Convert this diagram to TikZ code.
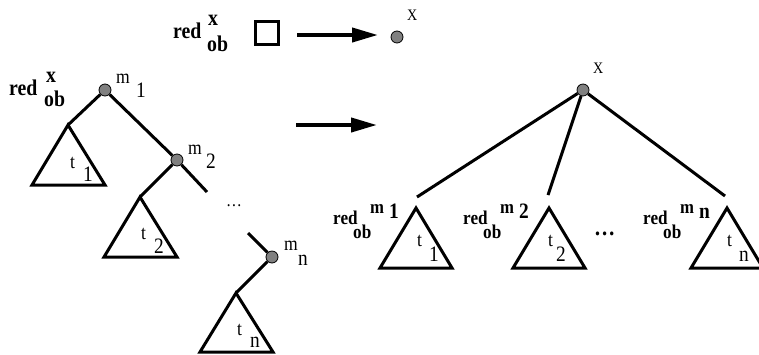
\documentclass[tikz,border=0pt]{standalone}
\usepackage{fontspec}
\setmainfont{Liberation Serif}[FakeStretch=0.88]
\usetikzlibrary{arrows.meta}
\newcommand\fsz[1]{\fontsize{#1}{#1}\selectfont}
\definecolor{dotgray}{RGB}{128,128,128}
\begin{document}
\begin{tikzpicture}[x=1pt,y=-1pt,
  lbl/.style={inner sep=0pt, anchor=base west},
  edge/.style={line width=3pt},
  tri/.style={line width=3pt, line join=miter},
  dotnode/.style={circle, draw=black, line width=0.8pt, fill=dotgray, minimum size=12pt, inner sep=0pt},
  bigarrow/.style={line width=4pt, -{Triangle[length=26pt,width=14pt]}},
  redl/.style={lbl, font=\fsz{22.5}\bfseries},
  redr/.style={lbl, font=\fsz{19.5}\bfseries},
  mlet/.style={lbl, font=\fsz{20}},
  tlet/.style={lbl, font=\fsz{20}},
  mdig/.style={lbl, font=\fsz{22}},
  mletb/.style={lbl, font=\fsz{19}\bfseries},
  mdigb/.style={lbl, font=\fsz{22}\bfseries},
  xlbl/.style={lbl, font=\fsz{16}}
]
\useasboundingbox (0,0) rectangle (759,354);
\clip (0,0) rectangle (759,354);

% ---------- top row ----------
\node[redl] (tred) at (173,38) {red};
\node[redl] (tx) at (208,25) {x};
\node[redl] (tob) at (207,51) {ob};
\node[draw, line width=3pt, minimum size=23pt, inner sep=0pt] (sq) at (267,32.5) {};
\node[dotnode] (tdot) at (397,37) {};
\node[xlbl] (tX) at (407,20) {X};
\coordinate (ta1) at (297,35);
\coordinate (ta2) at (378,35);
\draw[bigarrow] (ta1) -- (ta2);

% ---------- left tree ----------
\node[redl] (lred) at (9,95) {red};
\node[redl] (lx) at (46,82) {x};
\node[redl] (lob) at (44,106) {ob};

\node[dotnode] (m1) at (105,90) {};
\node[dotnode] (m2) at (177,160) {};
\node[dotnode] (mn) at (272,257) {};

\node[mlet] (m1a) at (116,83) {m};
\node[mdig] (m1b) at (136,97) {1};
\node[mlet] (m2a) at (188,154) {m};
\node[mdig] (m2b) at (206,168) {2};
\node[mlet] (mna) at (284,250) {m};
\node[mdig] (mnb) at (298,265) {n};

\coordinate (a1) at (68,125);
\coordinate (a2) at (140,197);
\coordinate (an) at (236,293);
\coordinate (f1) at (207,192);
\coordinate (f2) at (248,233);

\draw[edge] (m1) -- (a1);
\draw[edge] (m1) -- (m2);
\draw[edge] (m2) -- (f1);
\draw[edge] (m2) -- (a2);
\draw[edge] (f2) -- (mn);
\draw[edge] (mn) -- (an);

\draw[tri] (a1) -- ++(-36,60) -- ++(73,0) -- cycle;
\draw[tri] (a2) -- ++(-36,60) -- ++(73,0) -- cycle;
\draw[tri] (an) -- ++(-36,59) -- ++(73,0) -- cycle;

\node[tlet] (t1a) at (70,168) {t};
\node[mdig] (t1b) at (83,181) {1};
\node[tlet] (t2a) at (141,239) {t};
\node[mdig] (t2b) at (154,253) {2};
\node[tlet] (tna) at (237,335) {t};
\node[mdig] (tnb) at (250,347) {n};

\node[lbl, font=\fsz{18}] (ldots) at (226,206) {\ldots};

% ---------- middle arrow ----------
\coordinate (ma1) at (296,125);
\coordinate (ma2) at (377,125);
\draw[bigarrow] (ma1) -- (ma2);

% ---------- right tree ----------
\node[dotnode] (X) at (583,90) {};
\node[xlbl] (XX) at (593,73) {X};
\coordinate (e1) at (417,197);
\coordinate (e2) at (548,195);
\coordinate (e3) at (725,196);
\draw[edge] (X) -- (e1);
\draw[edge] (X) -- (e2);
\draw[edge] (X) -- (e3);

\coordinate (b1) at (416,208);
\coordinate (b2) at (549,208);
\coordinate (b3) at (727,208);
\draw[tri] (b1) -- ++(-36,60) -- ++(72,0) -- cycle;
\draw[tri] (b2) -- ++(-36,60) -- ++(72,0) -- cycle;
\draw[tri] (b3) -- ++(-36,60) -- ++(72,0) -- cycle;

\node[tlet] (r1a) at (417,246) {t};
\node[mdig] (r1b) at (429,261) {1};
\node[tlet] (r2a) at (548,246) {t};
\node[mdig] (r2b) at (556,261) {2};
\node[tlet] (rna) at (727,246) {t};
\node[mdig] (rnb) at (739,261) {n};

% labels red_ob^m
\node[redr] (rr1) at (333,224) {red};
\node[redr] (ro1) at (353,238.5) {ob};
\node[mletb] (rm1) at (370,213) {m};
\node[mdigb] (rd1) at (389,218) {1};

\node[redr] (rr2) at (463,224) {red};
\node[redr] (ro2) at (483,238.5) {ob};
\node[mletb] (rm2) at (500,213) {m};
\node[mdigb] (rd2) at (519,218) {2};

\node[redr] (rrn) at (643,224) {red};
\node[redr] (ron) at (663,238.5) {ob};
\node[mletb] (rmn) at (680,213) {m};
\node[mdigb] (rdn) at (699,218) {n};

\node[lbl, font=\fsz{24}\bfseries] (rdots) at (594,235) {\ldots};
\end{tikzpicture}
\end{document}
